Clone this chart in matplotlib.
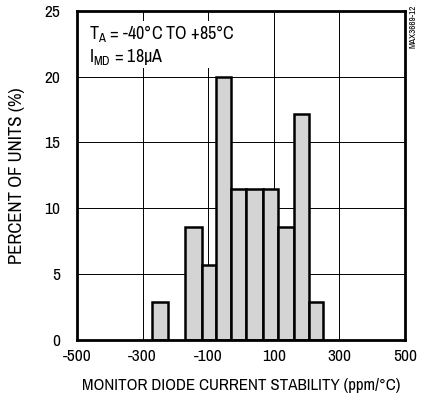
import numpy as np
import matplotlib
matplotlib.use("Agg")
import matplotlib.pyplot as plt

# histogram data (35 units)
bin_edges = [-270, -222, -170, -120, -76, -30, 16, 66, 114, 162, 206, 250]
percent = [2.86, 0.0, 8.57, 5.71, 20.0, 11.43, 11.43, 11.43, 8.57, 17.14, 2.86]
x_ticks = [-500, -300, -100, 100, 300, 500]
y_ticks = [0, 5, 10, 15, 20, 25]

plt.rcParams['font.family'] = ['Archivo Narrow', 'Liberation Sans', 'DejaVu Sans']
plt.rcParams['mathtext.fontset'] = 'custom'
plt.rcParams['mathtext.rm'] = 'Archivo Narrow'
plt.rcParams['mathtext.it'] = 'Archivo Narrow'
plt.rcParams['axes.unicode_minus'] = False

fig = plt.figure(figsize=(4.21, 4.0), dpi=100)
ax = fig.add_axes([0.183, 0.151, 0.779, 0.822])

edges = np.array(bin_edges)
widths = np.diff(edges)
heights = np.array(percent)
mask = heights > 0
ax.bar(edges[:-1][mask], heights[mask], width=widths[mask], align='edge',
       color='#d4d4d4', edgecolor='black', linewidth=1.8, zorder=3)

ax.set_xlim(-500, 500)
ax.set_ylim(0, 25)
ax.set_xticks(x_ticks)
ax.set_yticks(y_ticks)
ax.tick_params(length=0, labelsize=12.5, pad=7)
ax.tick_params(axis='y', pad=12)
ax.grid(True, color='black', linewidth=0.7, zorder=0)
ax.set_axisbelow(True)
for s in ax.spines.values():
    s.set_linewidth(2)
    s.set_zorder(4)

ax.set_xlabel("MONITOR DIODE CURRENT STABILITY (ppm/°C)", fontsize=12.2, labelpad=10)
ax.set_ylabel("PERCENT OF UNITS (%)", fontsize=13.5, labelpad=14)

ax.text(-465, 24.1, "$\\mathrm{T_{A}}$ = -40°C TO +85°C\n$\\mathrm{I_{MD}}$ = 18µA",
        fontsize=13, va='top', ha='left', linespacing=1.2, zorder=5,
        bbox=dict(facecolor='white', edgecolor='none', pad=1))

fig.text(0.982, 0.935, "MAX3669-12", rotation=90, fontsize=6.5, ha='center', va='center')

fig.savefig("out.png", dpi=100)
